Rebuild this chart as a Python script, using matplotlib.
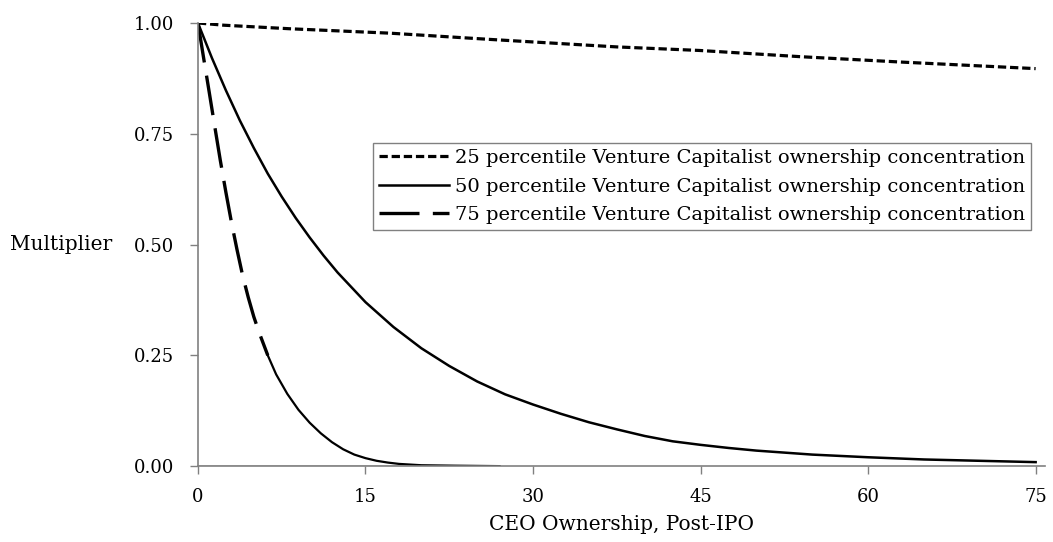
import matplotlib
matplotlib.use("Agg")
import matplotlib.pyplot as plt

# values
x_25 = [0, 2.3, 8.2, 17.2, 26.1, 37.5, 44.9, 53.9, 62.8, 75]
y_25 = [1.000, 0.995, 0.987, 0.977, 0.963, 0.946, 0.938, 0.924, 0.912, 0.897]

x_50 = [0, 1.25, 2.5, 3.75, 5, 6.25, 7.5, 8.75, 10, 11.25, 12.5, 15, 17.5, 20,
        22.5, 25, 27.5, 30, 32.5, 35, 37.5, 40, 42.5, 45, 47.5, 50, 55, 60, 65,
        70, 75]
y_50 = [1.000, 0.921, 0.848, 0.780, 0.718, 0.660, 0.608, 0.560, 0.516, 0.475,
        0.437, 0.370, 0.314, 0.266, 0.226, 0.191, 0.162, 0.139, 0.118, 0.099,
        0.083, 0.068, 0.056, 0.048, 0.041, 0.035, 0.026, 0.020, 0.015, 0.012,
        0.009]

x_75 = [0, 0.5, 1, 1.5, 2, 2.5, 3, 3.5, 4, 4.5, 5, 5.5, 6.25, 7, 8, 9, 10, 11,
        12, 13, 14, 15, 16, 17, 18, 20, 23, 27]
y_75 = [1.000, 0.922, 0.845, 0.767, 0.690, 0.618, 0.550, 0.488, 0.430, 0.381,
        0.337, 0.300, 0.250, 0.207, 0.163, 0.127, 0.098, 0.074, 0.054, 0.038,
        0.026, 0.018, 0.012, 0.008, 0.005, 0.002, 0.001, 0.000]
dash_end_75 = 12  # the reference draws the 75th curve dashed only down to about 0.25

# short dark stretch along the zero line
base_x = [0, 27]
base_y = [0, 0]

x_ticks = [0, 15, 30, 45, 60, 75]
y_ticks = [0.00, 0.25, 0.50, 0.75, 1.00]

plt.rcParams['font.family'] = ['DejaVu Serif']

fig = plt.figure(figsize=(10.53, 5.42), dpi=100)
ax = fig.add_axes([0.188, 0.140, 0.804, 0.8176])

ax.plot(base_x, base_y, color='black', lw=1.0, solid_capstyle='butt')
ax.plot(x_25, y_25, color='black', lw=2.3, linestyle=(0, (2.6, 1.2)),
        label='25 percentile Venture Capitalist ownership concentration')
ax.plot(x_50, y_50, color='black', lw=1.8,
        label='50 percentile Venture Capitalist ownership concentration')
ax.plot(x_75[:dash_end_75 + 1], y_75[:dash_end_75 + 1], color='black', lw=2.4,
        linestyle=(0, (12, 4)),
        label='75 percentile Venture Capitalist ownership concentration')
ax.plot(x_75[dash_end_75:], y_75[dash_end_75:], color='black', lw=1.6)

ax.set_xlim(0, 75.8)
ax.set_ylim(0, 1.0)
ax.set_xticks(x_ticks)
ax.set_yticks(y_ticks)
ax.set_yticklabels([f'{v:.2f}' for v in y_ticks])

for side in ['top', 'right']:
    ax.spines[side].set_visible(False)
for side in ['left', 'bottom']:
    ax.spines[side].set_color('#808080')
    ax.spines[side].set_linewidth(1.2)
ax.tick_params(axis='both', colors='#808080', length=6, width=1.0,
               labelcolor='black', labelsize=13)
ax.tick_params(axis='x', pad=10)
ax.tick_params(axis='y', pad=11)

ax.set_xlabel('CEO Ownership, Post-IPO', fontsize=14.5, labelpad=6)
ax.set_ylabel('Multiplier', fontsize=14.5, rotation=0, ha='left', va='center')
ax.yaxis.set_label_coords(-0.222, 0.5)

leg = ax.legend(loc='upper left', bbox_to_anchor=(0.207, 0.729), fontsize=14,
                handlelength=3.6, handletextpad=0.3, labelspacing=0.55,
                borderpad=0.3, borderaxespad=0, fancybox=False, framealpha=1)
leg.get_frame().set_edgecolor('#808080')
leg.get_frame().set_linewidth(1.0)

fig.savefig('out.png', dpi=100)
